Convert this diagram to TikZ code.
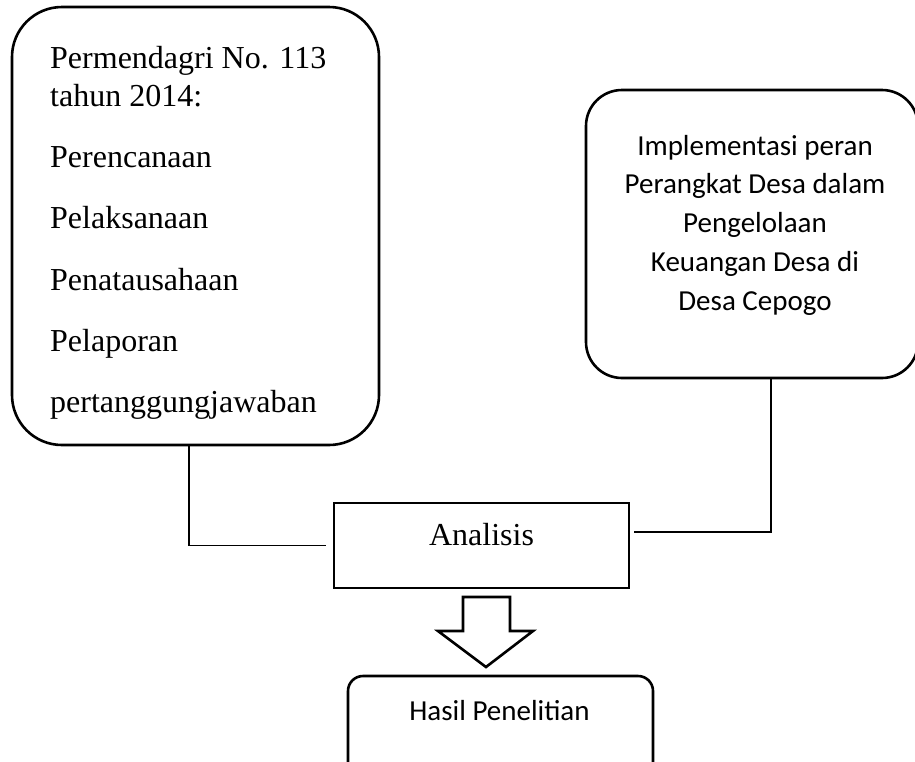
\documentclass[tikz,border=0pt]{standalone}
\usepackage{fontspec}
\setmainfont{Liberation Serif}
\newfontfamily\calib{Carlito}
\begin{document}
\begin{tikzpicture}[x=1pt,y=-1pt,
  box/.style={draw=black,line width=2.6pt,rectangle,inner sep=0pt},
  conn/.style={draw=black,line width=1.8pt},
  sertext/.style={font=\fontsize{32}{38}\selectfont,inner sep=0pt},
  caltext/.style={font=\calib\fontsize{29}{39}\selectfont,inner sep=0pt}]
\clip (0,0) rectangle (915,761);
\useasboundingbox (0,0) rectangle (915,761);
\fill[white] (0,0) rectangle (915,761);

% boxes
\node[box,rounded corners=50pt,minimum width=367pt,minimum height=438pt] (lbox) at (195.5,226) {};
\node[box,rounded corners=36pt,minimum width=332pt,minimum height=288pt] (rbox) at (752,234) {};
\node[box,minimum width=295pt,minimum height=85pt] (ana) at (481.5,545.5) {};
\node[box,rounded corners=15pt,minimum width=305pt,minimum height=114pt] (hasil) at (500.5,733) {};

% left texts
\node[sertext,anchor=base west] (l1) at (50,68) {Permendagri No. 113};
\node[sertext,anchor=base west] (l2) at (50,106) {tahun 2014:};
\node[sertext,anchor=base west] (l3) at (50,167) {Perencanaan};
\node[sertext,anchor=base west] (l4) at (50,228) {Pelaksanaan};
\node[sertext,anchor=base west] (l5) at (50,290) {Penatausahaan};
\node[sertext,anchor=base west] (l6) at (50,351) {Pelaporan};
\node[sertext,anchor=base west] (l7) at (50,412) {pertanggungjawaban};

% right texts
\node[caltext,anchor=base] (r1) at (755,155) {Implementasi peran};
\node[caltext,anchor=base] (r2) at (755,193) {Perangkat Desa dalam};
\node[caltext,anchor=base] (r3) at (755,232) {Pengelolaan};
\node[caltext,anchor=base] (r4) at (755,271) {Keuangan Desa di};
\node[caltext,anchor=base] (r5) at (755,310) {Desa Cepogo};

% centre texts
\node[sertext,anchor=base] (anat) at (481.5,545) {Analisis};
\node[caltext,anchor=base] (hasilt) at (499.5,720) {Hasil Penelitian};

% connectors
\coordinate (lj) at (189,545.5);
\coordinate (rj) at (771,532);
\draw[conn] (lj |- lbox.south) -- (lj) -- ([xshift=-7pt]ana.west);
\draw[conn] (rj |- rbox.south) -- (rj) -- ([xshift=4pt]ana.east |- rj);

% hollow arrow
\draw[box,line join=miter] (463,597) -- (510,597) -- (510,631) -- (533,631) -- (486,667) -- (438,631) -- (463,631) -- cycle;
\end{tikzpicture}
\end{document}
